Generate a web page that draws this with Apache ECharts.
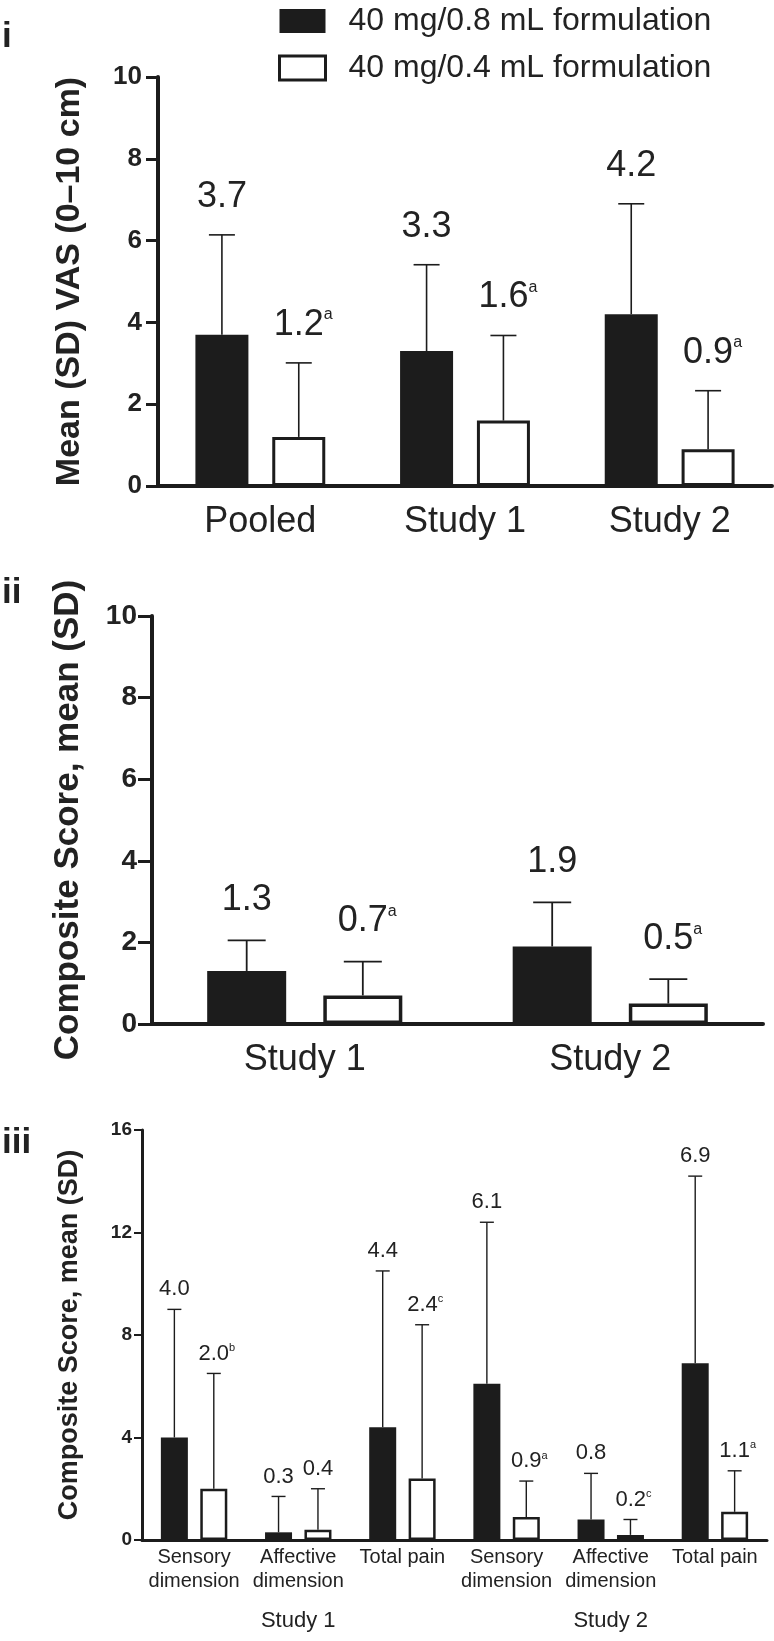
<!DOCTYPE html>
<html>
<head>
<meta charset="utf-8">
<script src="https://cdn.jsdelivr.net/npm/echarts@6/dist/echarts.min.js"></script>
<style>
  html, body { margin: 0; padding: 0; background: #fff; }
  #chart { width: 774px; height: 1641px; }
</style>
</head>
<body>
<div id="chart"></div>
<script>
// ---------- DATA ----------
const seriesNames = ['40 mg/0.8 mL formulation', '40 mg/0.4 mL formulation'];
const panelLabels = ['i', 'ii', 'iii'];

// Panel i: VAS
const catsI = ['Pooled', 'Study 1', 'Study 2'];
const meanI_08 = [3.7, 3.3, 4.2];
const sdI_08 = [2.44, 2.11, 2.70];
const supI_08 = ['', '', ''];
const meanI_04 = [1.2, 1.6, 0.9];
const sdI_04 = [1.81, 2.08, 1.43];
const supI_04 = ['a', 'a', 'a'];
const ticksI = [0, 2, 4, 6, 8, 10];

// Panel ii: composite score
const catsII = ['Study 1', 'Study 2'];
const meanII_08 = [1.3, 1.9];
const sdII_08 = [0.75, 1.08];
const supII_08 = ['', ''];
const meanII_04 = [0.7, 0.5];
const sdII_04 = [0.83, 0.60];
const supII_04 = ['a', 'a'];
const ticksII = [0, 2, 4, 6, 8, 10];

// Panel iii: composite score by dimension
const catsIII = ['Sensory\ndimension', 'Affective\ndimension', 'Total pain',
                 'Sensory\ndimension', 'Affective\ndimension', 'Total pain'];
const groupsIII = ['', 'Study 1', '', '', 'Study 2', ''];
const meanIII_08 = [4.0, 0.3, 4.4, 6.1, 0.8, 6.9];
const sdIII_08 = [5.0, 1.4, 6.1, 6.3, 1.8, 7.3];
const supIII_08 = ['', '', '', '', '', ''];
const meanIII_04 = [2.0, 0.4, 2.4, 0.9, 0.2, 1.1];
const sdIII_04 = [4.5, 1.6, 6.0, 1.4, 0.6, 1.6];
const supIII_04 = ['b', '', 'c', 'a', 'c', 'a'];
const ticksIII = [0, 4, 8, 12, 16];

const yTitles = ['Mean (SD) VAS (0\u201310 cm)', 'Composite Score, mean (SD)', 'Composite Score, mean (SD)'];

// ---------- STYLE ----------
const FONT = "'Liberation Sans', Arial, Helvetica, sans-serif";
const INK = '#1c1c1c';
const TXT = '#222222';

const panels = [
  { cats: catsI, m08: meanI_08, s08: sdI_08, u08: supI_08, m04: meanI_04, s04: sdI_04, u04: supI_04, ticks: ticksI,
    grid: { left: 158, top: 77, width: 614, height: 409 },
    barW: 53, gapPct: 45, border: 3, axisW: 4, tickLen: 12, tickW: 3, yFont: 26, yMargin: 16,
    xFont: 36, xMargin: 18, valFont: 36, supFont: 16, valGap: 38, capW: 26, errW: 1.6,
    titleFont: 34, titleGap: 71 },
  { cats: catsII, m08: meanII_08, s08: sdII_08, u08: supII_08, m04: meanII_04, s04: sdII_04, u04: supII_04, ticks: ticksII,
    grid: { left: 152, top: 616, width: 611, height: 408 },
    barW: 79, gapPct: 47, border: 3.5, axisW: 4, tickLen: 14, tickW: 3, yFont: 28, yMargin: 15,
    xFont: 36, xMargin: 18, valFont: 36, supFont: 16, valGap: 40, capW: 38, errW: 1.8,
    titleFont: 35, titleGap: 66 },
  { cats: catsIII, m08: meanIII_08, s08: sdIII_08, u08: supIII_08, m04: meanIII_04, s04: sdIII_04, u04: supIII_04, ticks: ticksIII,
    grid: { left: 142, top: 1130, width: 625, height: 410 },
    barW: 27, gapPct: 46, border: 2.5, axisW: 3, tickLen: 8, tickW: 2, yFont: 19, yMargin: 10,
    xFont: 20, xMargin: 5, valFont: 22, supFont: 11, valGap: 20, capW: 14, errW: 1.4,
    titleFont: 27, titleGap: 59 }
];

const grids = [], xAxes = [], yAxes = [], series = [];

function errSeries(p, idx, means, sds, sups, dx) {
  return {
    type: 'custom', name: seriesNames[idx === 0 ? 0 : 1] + ' SD',
    xAxisIndex: p._x, yAxisIndex: p._y, z: 5, silent: true, clip: false,
    data: means.map((m, i) => [i, m, sds[i]]),
    encode: { x: 0, y: 1 },
    renderItem: function (params, api) {
      const i = api.value(0), m = api.value(1), s = api.value(2);
      const base = api.coord([i, m]);
      const top = api.coord([i, m + s]);
      const x = base[0] + dx;
      const sup = sups[params.dataIndex];
      const val = m.toFixed(1);
      const supW = p.supFont * 0.56;
      const text = sup ? '{p| }{v|' + val + '}{s|' + sup + '}' : '{v|' + val + '}';
      return {
        type: 'group',
        children: [
          { type: 'line', shape: { x1: x, y1: base[1], x2: x, y2: top[1] },
            style: { stroke: INK, lineWidth: p.errW } },
          { type: 'line', shape: { x1: x - p.capW / 2, y1: top[1], x2: x + p.capW / 2, y2: top[1] },
            style: { stroke: INK, lineWidth: p.errW } },
          { type: 'text', x: x, y: top[1] - p.valGap,
            style: {
              text: text, align: 'center', verticalAlign: 'middle',
              fill: TXT, fontFamily: FONT, fontSize: p.valFont,
              rich: {
                v: { fontSize: p.valFont, fontFamily: FONT, fill: TXT },
                s: { fontSize: p.supFont, fontFamily: FONT, fill: TXT, verticalAlign: 'top' },
                p: { fontSize: p.supFont, fontFamily: FONT, width: supW }
              }
            } }
        ]
      };
    }
  };
}

panels.forEach((p, k) => {
  grids.push(Object.assign({ containLabel: false, outerBoundsMode: 'none' }, p.grid));
  p._y = yAxes.length;
  yAxes.push({
    type: 'value', gridIndex: k, min: p.ticks[0], max: p.ticks[p.ticks.length - 1],
    interval: p.ticks[1] - p.ticks[0],
    name: yTitles[k], nameLocation: 'middle', nameRotate: 90, nameGap: p.titleGap,
    nameTextStyle: { fontFamily: FONT, fontWeight: 'bold', fontSize: p.titleFont, color: TXT },
    axisLine: { show: true, lineStyle: { color: INK, width: p.axisW } },
    axisTick: { show: true, inside: false, length: p.tickLen, lineStyle: { color: INK, width: p.tickW } },
    axisLabel: { fontFamily: FONT, fontWeight: 'bold', fontSize: p.yFont, color: TXT, margin: p.yMargin },
    splitLine: { show: false }
  });
  p._x = xAxes.length;
  xAxes.push({
    type: 'category', gridIndex: k, data: p.cats,
    axisLine: { show: true, onZero: true, lineStyle: { color: INK, width: p.axisW } },
    axisTick: { show: false },
    axisLabel: { interval: 0, fontFamily: FONT, fontSize: p.xFont, color: TXT, margin: p.xMargin,
                 lineHeight: k === 2 ? 24 : p.xFont },
    splitLine: { show: false }
  });
  const gap = p.barW * p.gapPct / 100;
  const dx = (p.barW + gap) / 2;
  series.push({
    type: 'bar', name: seriesNames[0], xAxisIndex: p._x, yAxisIndex: p._y,
    data: p.m08, barWidth: p.barW, barGap: p.gapPct + '%', z: 2,
    itemStyle: { color: INK, borderColor: INK, borderWidth: 0 }
  });
  series.push({
    type: 'bar', name: seriesNames[1], xAxisIndex: p._x, yAxisIndex: p._y,
    data: p.m04, barWidth: p.barW, barGap: p.gapPct + '%', z: 2,
    itemStyle: { color: '#ffffff', borderColor: INK, borderWidth: p.border }
  });
  series.push(errSeries(p, 0, p.m08, p.s08, p.u08, -dx));
  series.push(errSeries(p, 1, p.m04, p.s04, p.u04, dx));
});

// study group labels under panel iii
xAxes.push({
  type: 'category', gridIndex: 2, data: catsIII, position: 'bottom',
  axisLine: { show: false }, axisTick: { show: false }, splitLine: { show: false },
  axisLabel: { interval: 0, fontFamily: FONT, fontSize: 22, color: TXT, margin: 70,
               formatter: function (v, i) { return groupsIII[i]; } }
});

const option = {
  backgroundColor: '#ffffff',
  animation: false,
  textStyle: { fontFamily: FONT },
  legend: {
    orient: 'vertical', left: 273, top: 0, icon: 'rect',
    itemWidth: 46, itemHeight: 24, itemGap: 15, selectedMode: false,
    data: [
      { name: seriesNames[0], itemStyle: { color: INK, borderWidth: 0 } },
      { name: seriesNames[1], itemStyle: { color: '#ffffff', borderColor: INK, borderWidth: 3 } }
    ],
    formatter: function (name) { return '{p| }' + name; },
    textStyle: { fontFamily: FONT, fontSize: 32, color: TXT, lineHeight: 32,
                 rich: { p: { width: 18, fontSize: 32 } } }
  },
  graphic: [
    { type: 'text', left: 2, top: 20, style: { text: panelLabels[0], fontFamily: FONT, fontWeight: 'bold', fontSize: 35, fill: TXT } },
    { type: 'text', left: 2, top: 576, style: { text: panelLabels[1], fontFamily: FONT, fontWeight: 'bold', fontSize: 35, fill: TXT } },
    { type: 'text', left: 2, top: 1126, style: { text: panelLabels[2], fontFamily: FONT, fontWeight: 'bold', fontSize: 35, fill: TXT } }
  ],
  grid: grids,
  xAxis: xAxes,
  yAxis: yAxes,
  series: series
};

const chart = echarts.init(document.getElementById('chart'), null, { renderer: 'canvas' });
chart.setOption(option);
</script>
</body>
</html>
